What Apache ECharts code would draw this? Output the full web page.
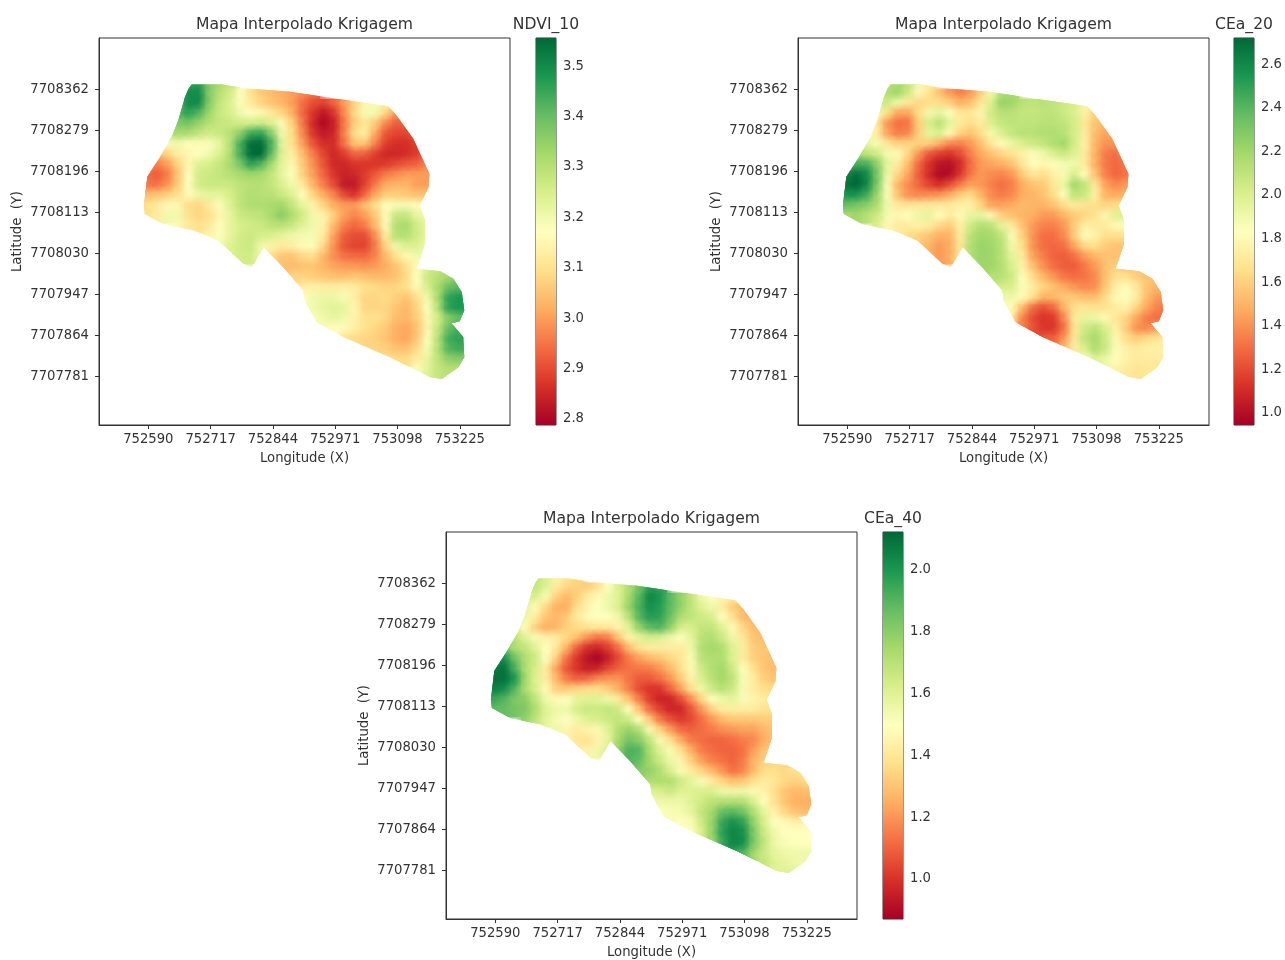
<!DOCTYPE html>
<html><head><meta charset="utf-8"><style>html,body{margin:0;padding:0;background:#fff}#c{width:1285px;height:960px}</style>
<script src="https://cdn.jsdelivr.net/npm/echarts@6/dist/echarts.min.js"></script></head><body><div id="c"></div>
<script>
const lonTicks=[752590,752717,752844,752971,753098,753225];
const latTicks=[7707781,7707864,7707947,7708030,7708113,7708196,7708279,7708362];
const lonRange=[752489.5,753327.3];
const latRange=[7707683,7708465.9];
const firstLon=752568.83, stepLon=21.17, firstLat=7708372.4, stepLat=20.75;
const rowStarts=[5,4,4,3,3,3,2,2,1,0,0,0,0,1,4,7,8,9,14,15,16,16,16,17,18,20,22,24,27,28];
const fieldLon=[752678,752740,752784,752879,752988,753079,753096,753130,753163,753161,753143,753154,753154,753137,753185,753212,753229,753234,753225,753208,753232,753234,753222,753188,753164,753083,752988,752933,752909,752906,752865,752825,752801,752784,752733,752682,752621,752583,752581,752588,752614,752638,752651,752665,752672];
const fieldLat=[7708372,7708372,7708365,7708357,7708341,7708328,7708309,7708262,7708191,7708164,7708127,7708097,7708050,7707999,7707994,7707979,7707952,7707915,7707893,7707889,7707861,7707820,7707800,7707776,7707780,7707820,7707861,7707891,7707935,7707955,7708002,7708043,7708002,7708009,7708056,7708077,7708089,7708110,7708127,7708185,7708225,7708266,7708299,7708347,7708363];
const ndviTicks=[2.8,2.9,3.0,3.1,3.2,3.3,3.4,3.5];
const cea20Ticks=[1.0,1.2,1.4,1.6,1.8,2.0,2.2,2.4,2.6];
const cea40Ticks=[1.0,1.2,1.4,1.6,1.8,2.0];
const ndviRange=[2.788,3.556], cea20Range=[0.945,2.72], cea40Range=[0.87,2.123];
const rdYlGn=['#a50026','#d73027','#f46d43','#fdae61','#fee08b','#ffffbf','#d9ef8b','#a6d96a','#66bd63','#1a9850','#006837'];

const ndviRows=[
[3.44,3.46,3.36,3.32,3.28],
[3.44,3.5,3.5,3.36,3.30,3.26,3.17,3.10,3.06,3.04,3.02,3.0,2.98,2.95],
[3.42,3.5,3.5,3.36,3.28,3.24,3.18,3.12,3.08,3.05,3.03,3.0,2.94,2.90,2.89,2.93,3.0,3.08,3.15,3.19,3.13],
[3.38,3.42,3.46,3.42,3.33,3.27,3.25,3.2,3.17,3.15,3.12,3.08,3.02,2.93,2.87,2.82,2.87,2.98,3.09,3.19,3.20,3.08,2.99],
[3.34,3.37,3.38,3.34,3.30,3.28,3.27,3.26,3.26,3.27,3.24,3.16,3.07,2.95,2.85,2.8,2.84,2.96,3.07,3.11,3.06,2.97,2.92,2.93],
[3.30,3.32,3.31,3.28,3.26,3.27,3.30,3.36,3.45,3.46,3.36,3.20,3.09,2.97,2.87,2.83,2.85,2.97,3.10,3.13,3.01,2.91,2.89,2.89,2.93],
[3.15,3.18,3.20,3.17,3.16,3.18,3.22,3.30,3.44,3.55,3.55,3.43,3.22,3.10,3.0,2.91,2.86,2.86,2.95,3.05,3.05,2.96,2.88,2.86,2.86,2.88,2.95],
[3.04,3.08,3.13,3.15,3.17,3.20,3.24,3.31,3.44,3.55,3.55,3.40,3.23,3.13,3.04,2.96,2.89,2.85,2.88,2.93,2.92,2.88,2.85,2.85,2.86,2.88,2.95],
[2.98,2.96,3.0,3.08,3.15,3.24,3.25,3.28,3.32,3.38,3.46,3.42,3.32,3.22,3.15,3.06,2.98,2.91,2.85,2.85,2.87,2.87,2.87,2.88,2.9,2.92,2.93,2.97,3.0],
[3.0,2.94,2.92,2.96,3.06,3.17,3.26,3.27,3.28,3.30,3.32,3.33,3.32,3.28,3.22,3.17,3.07,3.0,2.93,2.87,2.84,2.85,2.88,2.92,2.96,2.98,3.0,3.0,3.0,3.0],
[3.0,2.95,2.95,2.99,3.07,3.17,3.26,3.27,3.27,3.27,3.29,3.30,3.30,3.28,3.24,3.2,3.12,3.03,2.96,2.90,2.83,2.83,2.89,2.96,3.02,3.03,3.03,3.0,3.0,3.0],
[3.05,3.05,3.06,3.08,3.1,3.16,3.21,3.22,3.22,3.25,3.29,3.31,3.30,3.30,3.27,3.24,3.17,3.08,3.02,2.97,2.9,2.87,2.94,3.02,3.07,3.07,3.06,3.05,3.05,3.05],
[3.08,3.1,3.12,3.16,3.15,3.09,3.08,3.12,3.18,3.24,3.29,3.31,3.31,3.32,3.33,3.28,3.22,3.14,3.08,3.02,3.0,3.0,3.05,3.1,3.17,3.19,3.19,3.17,3.12],
[3.1,3.13,3.2,3.2,3.1,3.08,3.1,3.15,3.22,3.27,3.28,3.29,3.32,3.36,3.31,3.26,3.2,3.14,3.07,3.0,2.97,3.0,3.06,3.16,3.28,3.28,3.22,3.2,3.2],
[3.16,3.12,3.1,3.12,3.17,3.22,3.25,3.26,3.27,3.29,3.29,3.27,3.23,3.2,3.14,3.03,2.96,2.93,2.96,3.04,3.16,3.31,3.32,3.26,3.22,3.2],
[3.15,3.18,3.22,3.26,3.27,3.25,3.24,3.22,3.2,3.19,3.19,3.12,3.0,2.92,2.9,2.9,2.98,3.13,3.3,3.3,3.26,3.22,3.2],
[3.2,3.24,3.26,3.27,3.2,3.14,3.12,3.13,3.16,3.16,3.08,2.98,2.91,2.89,2.89,2.96,3.08,3.2,3.24,3.24,3.2,3.2],
[3.24,3.26,3.26,3.2,3.09,3.05,3.05,3.08,3.09,3.03,2.98,2.95,2.94,2.94,2.97,3.04,3.1,3.16,3.2,3.2],
[3.05,3.04,3.05,3.05,3.03,3.01,3.0,3.0,2.99,3.0,3.02,3.05,3.1,3.18,3.25,3.28,3.3],
[3.08,3.08,3.07,3.06,3.05,3.05,3.06,3.05,3.04,3.04,3.05,3.09,3.17,3.27,3.3,3.33,3.36],
[3.13,3.14,3.13,3.13,3.14,3.13,3.1,3.09,3.08,3.08,3.1,3.16,3.25,3.32,3.4,3.42],
[3.17,3.2,3.21,3.21,3.19,3.13,3.08,3.08,3.09,3.07,3.05,3.1,3.2,3.32,3.46,3.48,3.48],
[3.18,3.2,3.22,3.23,3.22,3.15,3.08,3.08,3.08,3.05,3.03,3.08,3.17,3.3,3.46,3.48,3.48],
[3.18,3.2,3.22,3.2,3.14,3.1,3.1,3.08,3.04,3.03,3.07,3.15,3.26,3.36,3.4,3.4],
[3.16,3.17,3.16,3.13,3.1,3.08,3.06,3.02,3.01,3.05,3.15,3.28,3.4,3.44,3.44],
[3.1,3.09,3.08,3.07,3.05,3.02,3.01,3.06,3.17,3.3,3.44,3.46,3.46],
[3.08,3.08,3.07,3.05,3.05,3.09,3.19,3.3,3.42,3.44,3.44],
[3.1,3.09,3.09,3.13,3.22,3.29,3.35,3.36,3.36],
[3.18,3.23,3.28,3.3,3.3],
[3.25,3.28,3.3]];

const cea20Rows=[
[2.12,2.18,2.1,1.9,1.72],
[2.05,2.15,2.2,2.05,1.8,1.68,1.55,1.42,1.35,1.42,1.6,1.9,2.15,2.18],
[2.0,2.05,1.9,1.7,1.62,1.65,1.65,1.6,1.5,1.55,1.7,2.0,2.24,2.2,2.12,2.1,2.12,2.1,2.05,2.02,1.9],
[1.95,1.9,1.65,1.45,1.45,1.65,1.9,1.95,1.85,1.7,1.7,1.78,2.05,2.12,2.12,2.08,2.08,2.1,2.1,2.05,2.0,1.75,1.6],
[1.85,1.72,1.4,1.3,1.32,1.6,2.02,2.12,1.95,1.72,1.65,1.72,2.0,2.08,2.1,2.1,2.1,2.12,2.12,2.1,2.02,1.7,1.55,1.52],
[1.85,1.72,1.45,1.35,1.38,1.6,1.95,2.0,1.8,1.6,1.55,1.65,1.88,2.0,2.08,2.12,2.12,2.15,2.15,2.12,2.02,1.72,1.52,1.45,1.5],
[2.05,1.95,1.88,1.7,1.62,1.62,1.6,1.58,1.48,1.36,1.34,1.42,1.55,1.7,1.82,1.92,2.0,2.05,2.08,2.15,2.2,2.02,1.75,1.5,1.4,1.4,1.5],
[2.2,2.1,2.05,1.88,1.8,1.62,1.4,1.22,1.15,1.12,1.2,1.35,1.47,1.55,1.62,1.68,1.75,1.85,1.9,2.0,2.05,1.98,1.72,1.48,1.33,1.3,1.4],
[2.35,2.45,2.45,2.25,1.95,1.72,1.52,1.28,1.12,1.02,1.0,1.1,1.3,1.42,1.45,1.48,1.55,1.7,1.82,1.78,1.82,1.88,1.9,1.72,1.48,1.33,1.28,1.33,1.4],
[2.5,2.62,2.7,2.6,2.3,1.9,1.62,1.45,1.25,1.1,0.98,1.0,1.15,1.33,1.42,1.38,1.36,1.42,1.58,1.7,1.65,1.75,1.88,2.02,1.82,1.55,1.35,1.28,1.32,1.4],
[2.58,2.68,2.72,2.6,2.28,1.85,1.5,1.38,1.28,1.18,1.12,1.22,1.35,1.45,1.42,1.35,1.3,1.35,1.48,1.55,1.58,1.7,1.92,2.2,2.1,1.7,1.45,1.38,1.42,1.5],
[2.5,2.55,2.55,2.45,2.2,1.85,1.55,1.4,1.38,1.4,1.42,1.5,1.6,1.65,1.5,1.38,1.34,1.38,1.48,1.5,1.55,1.65,1.85,2.1,2.05,1.75,1.5,1.48,1.5,1.55],
[2.3,2.35,2.3,2.25,2.15,1.9,1.72,1.7,1.72,1.72,1.72,1.72,1.75,1.75,1.62,1.45,1.45,1.48,1.52,1.5,1.5,1.55,1.65,1.72,1.68,1.65,1.62,1.65,1.7],
[2.15,2.2,2.12,2.05,1.88,1.78,1.82,1.92,1.95,1.82,1.72,1.8,1.95,1.95,1.8,1.6,1.55,1.5,1.48,1.42,1.42,1.5,1.58,1.62,1.68,1.78,1.98,2.0,2.0],
[2.0,1.8,1.72,1.72,1.75,1.72,1.62,1.58,1.75,2.05,2.15,2.12,1.95,1.72,1.55,1.42,1.35,1.35,1.42,1.58,1.75,1.72,1.72,1.8,1.85,1.85],
[1.65,1.6,1.55,1.48,1.5,1.72,2.12,2.2,2.18,2.1,1.85,1.6,1.4,1.3,1.3,1.38,1.6,1.82,1.75,1.65,1.65,1.65,1.65],
[1.58,1.5,1.42,1.48,1.7,2.15,2.22,2.2,2.12,1.9,1.65,1.4,1.3,1.28,1.3,1.45,1.62,1.65,1.58,1.55,1.55,1.6],
[1.48,1.42,1.48,1.7,2.15,2.22,2.2,2.12,1.95,1.72,1.45,1.35,1.27,1.25,1.3,1.42,1.5,1.55,1.55,1.55],
[2.2,2.2,2.14,2.0,1.75,1.55,1.4,1.3,1.26,1.25,1.33,1.42,1.55,1.6,1.55,1.55,1.55],
[2.12,2.12,2.05,1.82,1.65,1.52,1.42,1.33,1.3,1.32,1.38,1.55,1.68,1.68,1.6,1.55,1.55],
[2.02,2.0,1.85,1.72,1.62,1.55,1.48,1.42,1.38,1.4,1.58,1.75,1.82,1.7,1.55,1.5],
[1.9,1.9,1.8,1.65,1.48,1.5,1.58,1.58,1.55,1.55,1.65,1.8,1.85,1.72,1.52,1.42,1.4],
[1.85,1.8,1.5,1.28,1.2,1.28,1.5,1.68,1.7,1.68,1.68,1.72,1.75,1.6,1.45,1.35,1.33],
[1.7,1.35,1.2,1.13,1.15,1.38,1.72,1.95,1.92,1.8,1.7,1.6,1.45,1.33,1.3,1.3],
[1.35,1.22,1.14,1.15,1.32,1.7,2.05,2.12,2.0,1.75,1.58,1.4,1.38,1.45,1.5],
[1.25,1.27,1.42,1.72,2.1,2.18,2.05,1.8,1.65,1.6,1.65,1.7,1.7],
[1.55,1.72,2.0,2.15,2.05,1.85,1.75,1.72,1.75,1.75,1.75],
[1.85,1.98,1.92,1.82,1.75,1.72,1.72,1.72,1.72],
[1.75,1.72,1.68,1.7,1.7],
[1.7,1.68,1.7]];

const cea40Rows=[
[1.68,1.62,1.45,1.4,1.35],
[1.65,1.68,1.6,1.42,1.35,1.33,1.33,1.38,1.5,1.62,1.72,1.85,1.98,1.95],
[1.6,1.62,1.52,1.33,1.27,1.33,1.42,1.48,1.55,1.6,1.75,1.9,2.05,2.0,1.88,1.78,1.68,1.55,1.5,1.45,1.42],
[1.6,1.58,1.48,1.35,1.25,1.25,1.38,1.45,1.5,1.55,1.62,1.78,1.92,2.02,1.98,1.88,1.78,1.68,1.6,1.55,1.42,1.32,1.27],
[1.6,1.55,1.42,1.3,1.27,1.32,1.42,1.48,1.5,1.5,1.55,1.7,1.9,1.98,1.96,1.85,1.72,1.68,1.65,1.62,1.5,1.38,1.28,1.25],
[1.62,1.5,1.32,1.25,1.27,1.33,1.36,1.38,1.4,1.4,1.45,1.6,1.78,1.88,1.9,1.78,1.62,1.62,1.68,1.68,1.6,1.48,1.35,1.28,1.28],
[1.72,1.7,1.6,1.52,1.45,1.42,1.35,1.28,1.18,1.12,1.15,1.3,1.45,1.58,1.62,1.6,1.55,1.5,1.58,1.7,1.72,1.65,1.55,1.4,1.3,1.28,1.3],
[1.85,1.72,1.68,1.6,1.5,1.4,1.25,1.08,0.98,0.96,1.02,1.12,1.28,1.38,1.42,1.42,1.42,1.42,1.55,1.72,1.75,1.72,1.6,1.42,1.32,1.3,1.32],
[1.98,2.02,1.85,1.72,1.65,1.5,1.32,1.12,1.0,0.92,0.88,0.95,1.05,1.15,1.22,1.27,1.3,1.35,1.4,1.52,1.7,1.72,1.72,1.6,1.42,1.33,1.3,1.28,1.3],
[2.05,2.08,2.1,1.92,1.72,1.62,1.42,1.22,1.07,1.0,0.95,0.97,1.05,1.1,1.13,1.14,1.15,1.2,1.28,1.38,1.52,1.65,1.72,1.75,1.65,1.5,1.38,1.3,1.28,1.3],
[2.08,2.1,2.1,2.0,1.75,1.6,1.42,1.27,1.15,1.1,1.12,1.18,1.2,1.2,1.13,1.08,1.08,1.12,1.2,1.32,1.45,1.62,1.7,1.75,1.68,1.52,1.42,1.33,1.3,1.3],
[2.02,2.06,2.02,1.9,1.72,1.62,1.48,1.33,1.32,1.35,1.38,1.38,1.33,1.25,1.15,1.05,1.0,1.0,1.1,1.22,1.38,1.55,1.65,1.7,1.65,1.52,1.42,1.38,1.35,1.35],
[1.9,1.95,1.9,1.82,1.8,1.68,1.55,1.48,1.5,1.58,1.6,1.6,1.55,1.42,1.3,1.15,1.02,0.96,0.96,1.05,1.18,1.35,1.5,1.55,1.58,1.52,1.45,1.42,1.4],
[1.87,1.87,1.84,1.82,1.72,1.6,1.55,1.55,1.63,1.66,1.65,1.68,1.65,1.5,1.3,1.12,1.03,0.97,0.97,1.07,1.2,1.33,1.42,1.42,1.42,1.42,1.38,1.38,1.38],
[1.78,1.68,1.58,1.53,1.5,1.55,1.6,1.62,1.65,1.68,1.65,1.5,1.32,1.15,1.07,1.02,1.05,1.12,1.2,1.27,1.3,1.3,1.3,1.32,1.32,1.32],
[1.55,1.45,1.42,1.45,1.52,1.6,1.72,1.78,1.72,1.52,1.35,1.22,1.12,1.1,1.12,1.15,1.18,1.2,1.22,1.22,1.27,1.3,1.3],
[1.45,1.4,1.38,1.45,1.58,1.75,1.85,1.8,1.68,1.52,1.38,1.25,1.15,1.12,1.1,1.1,1.12,1.15,1.17,1.25,1.3,1.3],
[1.42,1.45,1.55,1.62,1.8,1.92,1.9,1.72,1.6,1.52,1.38,1.25,1.15,1.12,1.1,1.1,1.13,1.22,1.3,1.32],
[1.9,1.87,1.75,1.65,1.55,1.45,1.33,1.22,1.16,1.13,1.1,1.15,1.27,1.33,1.35,1.35,1.4],
[1.8,1.78,1.72,1.62,1.52,1.42,1.35,1.28,1.2,1.13,1.17,1.28,1.37,1.37,1.35,1.38,1.42],
[1.72,1.72,1.72,1.65,1.58,1.52,1.42,1.35,1.3,1.32,1.38,1.42,1.4,1.35,1.33,1.35],
[1.6,1.62,1.65,1.6,1.6,1.62,1.62,1.55,1.55,1.55,1.52,1.45,1.37,1.3,1.27,1.28,1.28],
[1.55,1.55,1.55,1.55,1.6,1.65,1.7,1.72,1.72,1.72,1.62,1.5,1.38,1.3,1.25,1.25,1.25],
[1.5,1.52,1.53,1.58,1.68,1.75,1.88,1.9,1.85,1.72,1.58,1.45,1.35,1.3,1.28,1.28],
[1.52,1.5,1.52,1.65,1.78,1.96,2.02,1.97,1.78,1.62,1.5,1.48,1.45,1.45,1.45],
[1.5,1.62,1.78,1.98,2.05,2.02,1.82,1.65,1.55,1.5,1.5,1.5,1.5],
[1.75,1.95,2.05,2.02,1.82,1.68,1.55,1.52,1.5,1.5,1.5],
[1.95,1.9,1.75,1.65,1.58,1.55,1.55,1.55,1.55],
[1.68,1.6,1.58,1.55,1.55],
[1.6,1.6,1.6]];

const titleText='Mapa Interpolado Krigagem';
const maps=[
 {rows:ndviRows,range:ndviRange,ticks:ndviTicks,name:'NDVI_10',left:99,top:38,barLeft:536},
 {rows:cea20Rows,range:cea20Range,ticks:cea20Ticks,name:'CEa_20',left:798,top:38,barLeft:1234},
 {rows:cea40Rows,range:cea40Range,ticks:cea40Ticks,name:'CEa_40',left:446,top:532,barLeft:883}
];
const font='"DejaVu Sans"', ink='#333';
const rgbStops=rdYlGn.map(h=>[1,3,5].map(k=>parseInt(h.substr(k,2),16)));
function rgb(v,range){
  const t=Math.max(0,Math.min(1,(v-range[0])/(range[1]-range[0])))*10;
  const i=Math.min(9,Math.floor(t)),f=t-i;
  return rgbStops[i].map((c,k)=>Math.round(c+(rgbStops[i+1][k]-c)*f));
}
function cellsOf(rows){
  const out=[];
  rows.forEach((r,j)=>r.forEach((v,k)=>out.push([firstLon+(rowStarts[j]+k)*stepLon,firstLat-j*stepLat,v])));
  return out;
}
function outline(api){return {type:'polygon',shape:{points:fieldLon.map((x,i)=>api.coord([x,fieldLat[i]]))}};}
const grids=[],xAxes=[],yAxes=[],series=[],titles=[];
const W=411,H=387,BW=20;
maps.forEach((m,n)=>{
  const gi=grids.length;
  grids.push({left:m.left,top:m.top,width:W,height:H,show:true,borderColor:ink,borderWidth:1,backgroundColor:'#fff'});
  grids.push({left:m.barLeft,top:m.top,width:BW,height:H,show:true,borderColor:ink,borderWidth:1});
  const lab={color:ink,fontFamily:font,fontSize:13.2};
  xAxes.push({gridIndex:gi,type:'value',min:lonRange[0],max:lonRange[1],splitLine:{show:false},
    axisLine:{onZero:false,lineStyle:{color:ink}},
    axisTick:{length:4,lineStyle:{color:ink},customValues:lonTicks},
    axisLabel:{...lab,margin:8,customValues:lonTicks,formatter:v=>String(v)},
    name:'Longitude (X)',nameLocation:'middle',nameGap:27,nameTextStyle:lab});
  yAxes.push({gridIndex:gi,type:'value',min:latRange[0],max:latRange[1],splitLine:{show:false},
    axisLine:{onZero:false,lineStyle:{color:ink}},
    axisTick:{length:4,lineStyle:{color:ink},customValues:latTicks},
    axisLabel:{...lab,margin:10,padding:[2,0,0,0],customValues:latTicks,formatter:v=>String(v)},
    name:'Latitude  (Y)',nameLocation:'middle',nameGap:75,nameTextStyle:lab});
  xAxes.push({gridIndex:gi+1,type:'value',min:0,max:1,show:false});
  yAxes.push({gridIndex:gi+1,type:'value',position:'right',min:m.range[0],max:m.range[1],splitLine:{show:false},
    axisLine:{show:false},
    axisTick:{length:4,lineStyle:{color:ink},customValues:m.ticks},
    axisLabel:{...lab,margin:7,padding:[2,0,0,0],customValues:m.ticks,formatter:v=>v.toFixed(1)}});
  const data=cellsOf(m.rows);
  series.push({type:'custom',xAxisIndex:gi,yAxisIndex:gi,data,silent:true,animation:false,progressive:0,z:2,encode:{x:0,y:1},
    renderItem(p,api){
      const a=api.coord([api.value(0)-stepLon/2,api.value(1)+stepLat/2]),b=api.coord([api.value(0)+stepLon/2,api.value(1)-stepLat/2]);
      const c=rgb(api.value(2),m.range);
      return {type:'rect',shape:{x:a[0]-.5,y:a[1]-.5,width:b[0]-a[0]+1,height:b[1]-a[1]+1},style:{fill:`rgb(${c})`},clipPath:outline(api)};
    }});
  series.push({type:'custom',xAxisIndex:gi,yAxisIndex:gi,data,silent:true,animation:false,progressive:0,z:3,encode:{x:0,y:1},
    renderItem(p,api){
      const a=api.coord([api.value(0)-1.25*stepLon,api.value(1)+1.25*stepLat]),b=api.coord([api.value(0)+1.25*stepLon,api.value(1)-1.25*stepLat]);
      const c=rgb(api.value(2),m.range);
      return {type:'rect',shape:{x:a[0],y:a[1],width:b[0]-a[0],height:b[1]-a[1]},
        style:{fill:{type:'radial',x:.5,y:.5,r:.5,global:false,colorStops:[
          {offset:0,color:`rgba(${c},.9)`},{offset:.45,color:`rgba(${c},.55)`},{offset:1,color:`rgba(${c},0)`}]}},
        clipPath:outline(api)};
    }});
  series.push({type:'custom',xAxisIndex:gi+1,yAxisIndex:gi+1,data:[[0,m.range[0],1,m.range[1]]],silent:true,animation:false,z:2,encode:{x:0,y:1},
    renderItem(p,api){
      const a=api.coord([api.value(0),api.value(3)]),b=api.coord([api.value(2),api.value(1)]);
      return {type:'rect',shape:{x:a[0],y:a[1],width:b[0]-a[0],height:b[1]-a[1]},
        style:{fill:{type:'linear',x:0,y:1,x2:0,y2:0,global:false,colorStops:rdYlGn.map((c,i)=>({offset:i/10,color:c}))}}};
    }});
  const tstyle={color:ink,fontFamily:font,fontSize:15.6,fontWeight:'normal'};
  titles.push({text:titleText,left:m.left+W/2,top:m.top-21,textAlign:'center',padding:0,textStyle:tstyle});
  titles.push({text:m.name,left:m.barLeft+BW/2,top:m.top-21,textAlign:'center',padding:0,textStyle:tstyle});
});
const chart=echarts.init(document.getElementById('c'),null,{renderer:'canvas'});
chart.setOption({animation:false,backgroundColor:'#fff',title:titles,grid:grids,xAxis:xAxes,yAxis:yAxes,series});
</script></body></html>
